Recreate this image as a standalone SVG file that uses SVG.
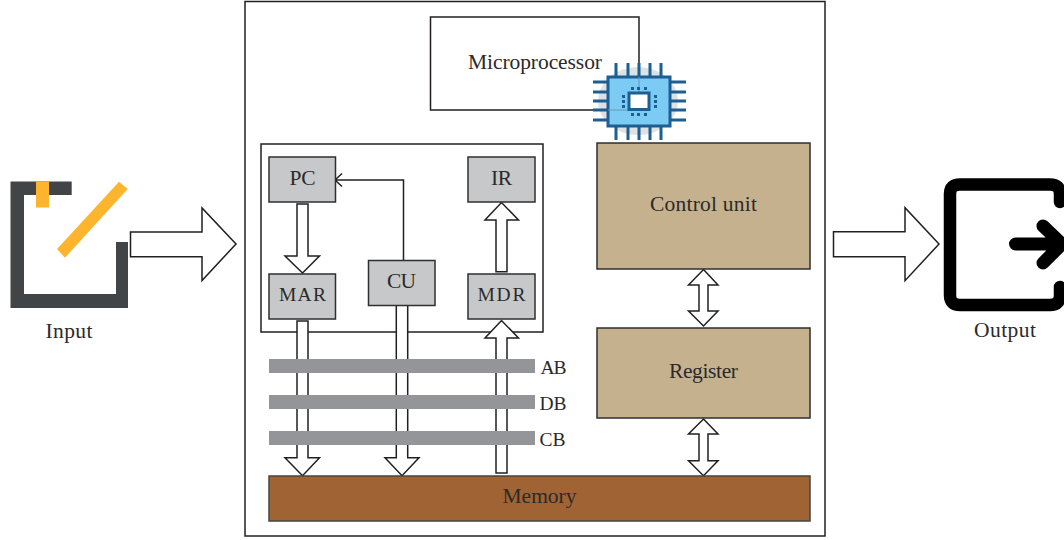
<svg xmlns="http://www.w3.org/2000/svg" width="1064" height="540" viewBox="0 0 1064 540">
<style>
text{font-family:"Liberation Serif","Times New Roman",serif;font-size:21.5px;fill:#2b2a29;text-anchor:middle}
text.small{font-size:19.5px}
.line{fill:none;stroke:#231f20;stroke-width:1.5}
.arrow{fill:#fff;stroke:#231f20;stroke-width:1.5;stroke-linejoin:miter}
.reg{fill:#c7c8ca;stroke:#2f2f2f;stroke-width:1.5}
.tan{fill:#c6b18f;stroke:#2f2f2f;stroke-width:1.5}
.bus{fill:#939598}
.pin{fill:none;stroke:#1c5f93;stroke-width:3}
.dot{fill:#1c5f93}
</style>
<rect width="1064" height="540" fill="#fff"/>
<g id="input">
<path fill="#414547" d="M10.5 181.5H71.7V195H24V294H116V242H128V308H10.5Z"/>
<rect x="36" y="181.5" width="13" height="26" fill="#fdb52d"/>
<polygon fill="#fdb52d" points="119,181.7 127.7,189 65,257.7 57,249"/>
<text x="69" y="338" textLength="47">Input</text>
</g>
<g id="output">
<path fill="none" stroke="#000" stroke-width="12.5" stroke-linecap="round" stroke-linejoin="round" d="M1060 202V194Q1060 184.500 1050 184.500H960Q950 184.500 950 194V295Q950 305 960 305H1050Q1060 305 1060 295V287"/>
<path fill="none" stroke="#000" stroke-width="13" stroke-linecap="round" stroke-linejoin="round" d="M1015.500 244H1072M1043 226L1062 244L1043 263"/>
<text x="1005" y="337" textLength="62">Output</text>
</g>
<g id="system">
<rect x="245" y="1.500" width="580" height="534.500" fill="none" stroke="#231f20" stroke-width="1.500"/>
</g>
<g id="microprocessor">
<path class="line" d="M639 80V17H430.500V110H628"/>
<text x="535" y="69" textLength="134">Microprocessor</text>
<ellipse cx="638" cy="101" rx="40" ry="34" fill="#dfe1e2"/>
<path class="pin" d="M616 63V76M628 63V76M639 63V76M650 63V76M661 63V76M616 127V140M628 127V140M639 127V140M650 127V140M661 127V140M593 82H607M593 92H607M593 101H607M593 110H607M593 120H607M671 82H686M671 92H686M671 101H686M671 110H686M671 120H686"/>
<rect x="608" y="77" width="62" height="49" fill="#7ccbf5" stroke="#1c5f93" stroke-width="3"/>
<path d="M639 77V92M608 110H628" stroke="#6f97ab" stroke-width="1" fill="none"/>
<rect x="629" y="93" width="20" height="16.500" fill="#fff" stroke="#1c5f93" stroke-width="3"/>
<path class="dot" d="M631 87h3v3h-3zM637 87h3v3h-3zM644 87h3v3h-3zM631 113h3v3h-3zM637 113h3v3h-3zM644 113h3v3h-3zM622 95h3v3h-3zM622 100h3v3h-3zM622 105h3v3h-3zM654 95h3v3h-3zM654 100h3v3h-3zM654 105h3v3h-3z"/>
</g>
<g id="cpu-box"><rect x="261" y="144" width="282" height="188" fill="none" stroke="#231f20" stroke-width="1.500"/></g>
<g id="connectors">
<polygon class="arrow" points="130.500,232 202,232 202,208 236,244 202,280.500 202,256.700 130.500,256.700"/>
<polygon class="arrow" points="833.500,231.700 905,231.700 905,207.700 939,244 905,280.700 905,256.700 833.500,256.700"/>
<polygon class="arrow" points="297,204 308,204 308,256 319.500,256 302.500,273 285,256 297,256"/>
<polygon class="arrow" points="496,271.700 507,271.700 507,220 518.500,220 501.500,202.500 485,220 496,220"/>
<polygon class="arrow" points="297,321 308,321 308,457.700 319.500,457.700 302.500,475.700 285,457.700 297,457.700"/>
<polygon class="arrow" points="396.300,305 407.700,305 407.700,457.700 419,457.700 402,475.700 385,457.700 396.300,457.700"/>
<polygon class="arrow" points="496,473 507,473 507,338 518.500,338 501.500,320.500 485,338 496,338"/>
<polygon class="arrow" points="703.500,269.500 718,285 708,285 708,311 718,311 703.500,326 688.500,311 699,311 699,285 688.500,285"/>
<polygon class="arrow" points="703.500,419 718,434 708,434 708,460.700 718,460.700 703.500,475.700 688.500,460.700 699,460.700 699,434 688.500,434"/>
<path class="line" d="M403.500 260.500V180H335M342 173.500L335 180L342 186.500"/>
</g>
<g id="pc"><rect class="reg" x="269" y="157" width="66.500" height="45"/><text x="302.500" y="185" textLength="26">PC</text></g>
<g id="ir"><rect class="reg" x="468" y="157" width="67" height="45"/><text x="501.500" y="185" textLength="21">IR</text></g>
<g id="mar"><rect class="reg" x="269" y="274" width="66.500" height="45"/><text class="small" x="302.500" y="301" textLength="47">MAR</text></g>
<g id="cu"><rect class="reg" x="368.500" y="260.500" width="66.500" height="45"/><text x="401.500" y="288" textLength="29">CU</text></g>
<g id="mdr"><rect class="reg" x="468" y="274" width="67" height="45"/><text class="small" x="501.500" y="301" textLength="48">MDR</text></g>
<g id="ab"><rect class="bus" x="269" y="359" width="266" height="14"/><text class="small" x="553.500" y="374" textLength="26">AB</text></g>
<g id="db"><rect class="bus" x="269" y="395" width="266" height="14"/><text class="small" x="553" y="410" textLength="27">DB</text></g>
<g id="cb"><rect class="bus" x="269" y="431" width="266" height="14"/><text class="small" x="552.500" y="446" textLength="26">CB</text></g>
<g id="control-unit"><rect class="tan" x="597" y="143" width="213" height="126"/><text x="703.500" y="211" textLength="107">Control unit</text></g>
<g id="register"><rect class="tan" x="597" y="328" width="213" height="90"/><text x="703.500" y="378" textLength="69">Register</text></g>
<g id="memory"><rect x="269" y="476" width="541" height="45" fill="#a06434" stroke="#444" stroke-width="1.500"/><text x="539.500" y="503" textLength="74">Memory</text></g>
</svg>
